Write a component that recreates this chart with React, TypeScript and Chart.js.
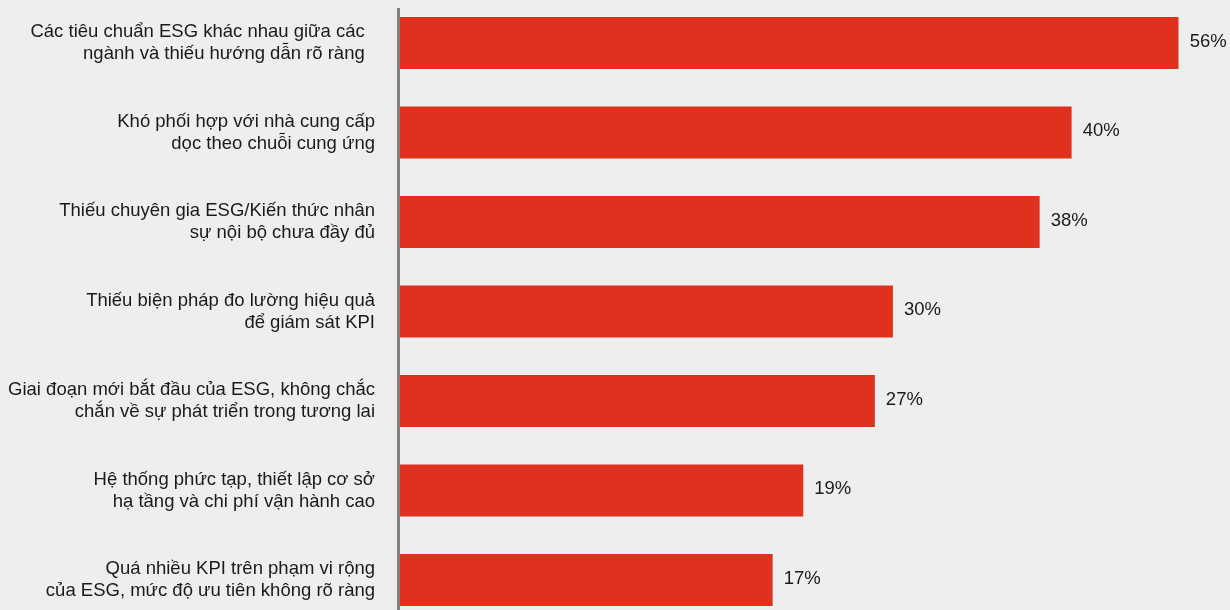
import React, { useEffect, useRef } from "react";
import { Chart, registerables } from "chart.js";

Chart.register(...registerables);

const categories: string[][] = [
  ["Các tiêu chuẩn ESG khác nhau giữa các  ", "ngành và thiếu hướng dẫn rõ ràng  "],
  ["Khó phối hợp với nhà cung cấp", "dọc theo chuỗi cung ứng"],
  ["Thiếu chuyên gia ESG/Kiến thức nhân", "sự nội bộ chưa đầy đủ"],
  ["Thiếu biện pháp đo lường hiệu quả", "để giám sát KPI"],
  ["Giai đoạn mới bắt đầu của ESG, không chắc", "chắn về sự phát triển trong tương lai"],
  ["Hệ thống phức tạp, thiết lập cơ sở", "hạ tầng và chi phí vận hành cao"],
  ["Quá nhiều KPI trên phạm vi rộng", "của ESG, mức độ ưu tiên không rõ ràng"],
];

// Shares printed at the bar ends
const shares: number[] = [56, 40, 38, 30, 27, 19, 17];
// Bar lengths as drawn in the picture (same unit, not to scale with the printed shares)
const barLengths: number[] = [56, 48.3, 46.0, 35.45, 34.15, 29.0, 26.8];

const FONT = "'Liberation Sans', Arial, sans-serif";
const TEXT = "#1a1a1a";
const BAR = "#E0311F";
const SIZE = 18.5;

export default function App() {
  const ref = useRef<HTMLCanvasElement | null>(null);

  useEffect(() => {
    if (!ref.current) return;
    const valueLabels = {
      id: "valueLabels",
      afterDatasetsDraw(chart: any) {
        const ctx = chart.ctx;
        const meta = chart.getDatasetMeta(0);
        ctx.save();
        ctx.font = `${SIZE}px ${FONT}`;
        ctx.fillStyle = TEXT;
        ctx.textAlign = "left";
        ctx.textBaseline = "middle";
        meta.data.forEach((el: any, i: number) => {
          ctx.fillText(`${shares[i]}%`, el.x + 11, el.y - 1.5);
        });
        ctx.restore();
      },
    };
    const axisLine = {
      id: "axisLine",
      afterDraw(chart: any) {
        const ctx = chart.ctx;
        const x = chart.scales.x.getPixelForValue(0) - 1.5;
        ctx.save();
        ctx.strokeStyle = "#808080";
        ctx.lineWidth = 3;
        ctx.beginPath();
        ctx.moveTo(x, 28);
        ctx.lineTo(x, chart.height);
        ctx.stroke();
        ctx.restore();
      },
    };
    const chart = new Chart(ref.current, {
      type: "bar",
      data: {
        labels: categories,
        datasets: [
          {
            data: barLengths,
            backgroundColor: BAR,
            borderWidth: 0,
            categoryPercentage: 1,
            barPercentage: 0.581,
          },
        ],
      },
      options: {
        indexAxis: "y",
        animation: false,
        responsive: true,
        maintainAspectRatio: false,
        layout: { padding: { top: 18.25, bottom: 15.25, left: 0, right: 51.3 } },
        plugins: { legend: { display: false }, tooltip: { enabled: false } },
        scales: {
          x: { display: false, min: 0, max: 56 },
          y: {
            grid: { display: false, drawTicks: false },
            border: { display: false },
            ticks: {
              padding: 25,
              color: TEXT,
              font: { family: FONT, size: SIZE, lineHeight: 1.18 },
            },
            afterFit(scale: any) {
              scale.width = 400;
              scale.paddingTop = 0;
              scale.paddingBottom = 0;
            },
          },
        },
      },
      plugins: [valueLabels, axisLine],
    } as any);
    return () => chart.destroy();
  }, []);

  return (
    <div
      style={{
        position: "fixed",
        left: 0,
        top: 0,
        width: 1230,
        height: 610,
        background: "#eeeeee",
        overflow: "hidden",
      }}
    >
      <div style={{ position: "absolute", left: 0, top: -20, width: 1230, height: 660 }}>
        <canvas ref={ref} />
      </div>
    </div>
  );
}
